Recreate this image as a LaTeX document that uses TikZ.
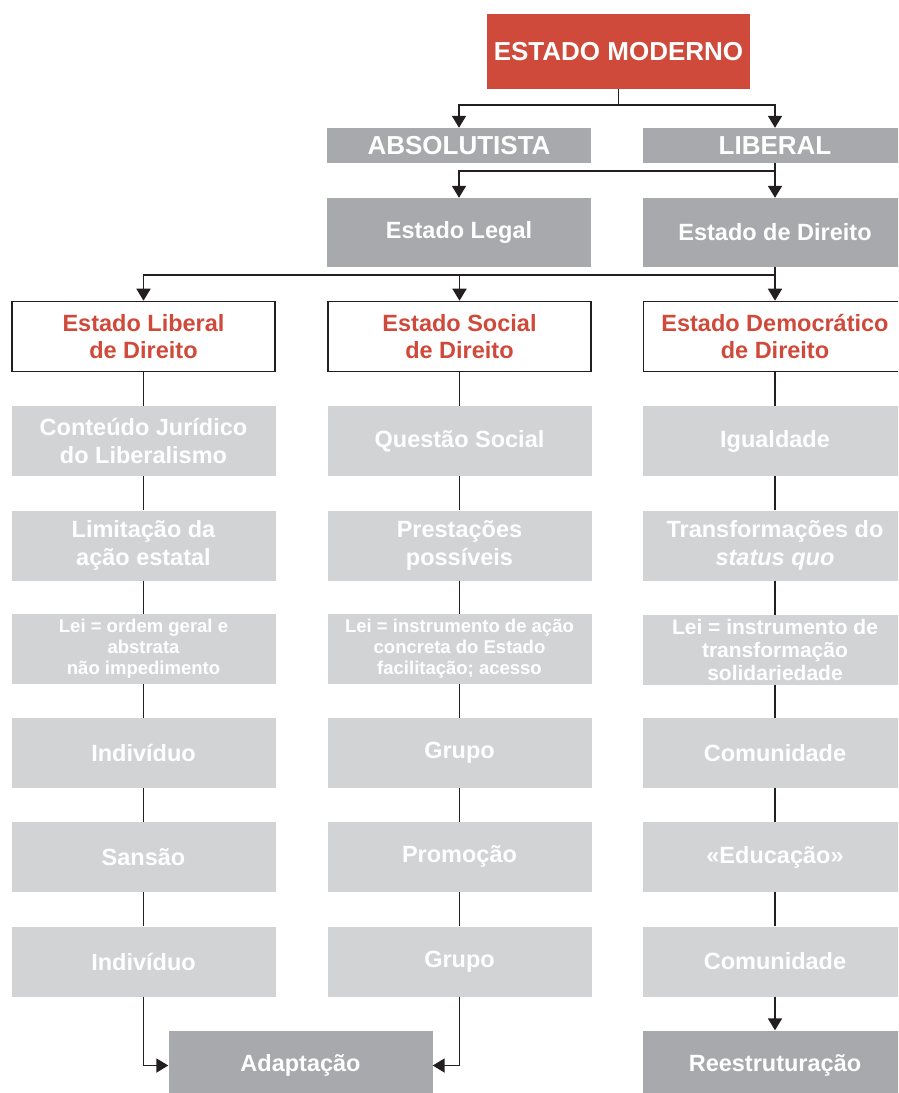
\documentclass[tikz,border=0pt]{standalone}
\usepackage{fontspec}
\setmainfont{Liberation Sans}
\usepackage{xcolor}
\usepackage{tikz}
\usetikzlibrary{arrows.meta,positioning,calc}
\definecolor{estred}{HTML}{CF4A3A}
\definecolor{midgray}{HTML}{A7A9AC}
\definecolor{palegray}{HTML}{D1D3D4}
\definecolor{lineblack}{HTML}{231F20}

\begin{document}
\begin{tikzpicture}[
x=1pt,
y=-1pt,
every node/.style={font=\bfseries,text=white,align=center,inner sep=0pt},
topbox/.style={rectangle,fill=estred,minimum width=263pt,minimum height=75pt,font=\bfseries\fontsize{26}{30}\selectfont},
capbox/.style={rectangle,fill=midgray,minimum width=264pt,minimum height=35pt,font=\bfseries\fontsize{26}{30}\selectfont},
darkbox/.style={rectangle,fill=midgray,minimum width=264pt,minimum height=69pt,font=\bfseries\fontsize{23.5}{28}\selectfont},
headbox/.style={rectangle,draw=lineblack,line width=1.6pt,fill=white,text=estred,minimum width=263pt,minimum height=70pt,font=\bfseries\fontsize{23.5}{27}\selectfont},
rowbox/.style={rectangle,fill=palegray,minimum width=264pt,minimum height=70pt,font=\bfseries\fontsize{23.5}{28}\selectfont},
leibox/.style={rowbox,font=\bfseries\fontsize{18.5}{21}\selectfont},
arr/.style={-{Triangle[length=12pt,width=14pt]},line width=1.8pt,draw=lineblack},
ln/.style={line width=1.8pt,draw=lineblack}
]
\useasboundingbox (0,0) rectangle (898,1093);
\clip (0,0) rectangle (898,1093);

\node[topbox] (moderno) at (618.5,51.5) {ESTADO MODERNO};
\node[capbox] (absol) at (459,145.5) {ABSOLUTISTA};
\node[capbox] (liberal) at (775,145.5) {LIBERAL};
\node[darkbox] (legal) at (459,232.5) {Estado Legal};
\node[darkbox] (direito) at (775,232.5) {Estado de Direito};

\node[headbox] (libdir) at (143.5,336.5) {Estado Liberal\\de Direito};
\node[headbox] (socdir) at (459.5,336.5) {Estado Social\\de Direito};
\node[headbox] (demdir) at (775,336.5) {Estado Democrático\\de Direito};

\node[rowbox] (lib1) at (143.5,441) {Conteúdo Jurídico\\do Liberalismo};
\node[rowbox] (lib2) at (143.5,545.5) {Limitação da\\ação estatal};
\node[leibox] (lib3) at (143.5,649) {Lei = ordem geral e\\abstrata\\não impedimento};
\node[rowbox] (lib4) at (143.5,753) {Indivíduo};
\node[rowbox] (lib5) at (143.5,857) {Sansão};
\node[rowbox] (lib6) at (143.5,961.5) {Indivíduo};

\node[rowbox] (soc1) at (459.5,441) {Questão Social};
\node[rowbox] (soc2) at (459.5,545.5) {Prestações\\possíveis};
\node[leibox] (soc3) at (459.5,649) {Lei = instrumento de ação\\concreta do Estado\\facilitação; acesso};
\node[rowbox] (soc4) at (459.5,753) {\strut Grupo};
\node[rowbox] (soc5) at (459.5,857) {\strut Promoção};
\node[rowbox] (soc6) at (459.5,961.5) {\strut Grupo};

\node[rowbox] (dem1) at (775,441) {Igualdade};
\node[rowbox] (dem2) at (775,545.5) {Transformações do\\\textit{status quo}};
\node[leibox,font=\bfseries\fontsize{21}{23}\selectfont] (dem3) at (775,650) {Lei = instrumento de\\transformação\\solidariedade};
\node[rowbox] (dem4) at (775,753) {Comunidade};
\node[rowbox] (dem5) at (775,857) {«Educação»};
\node[rowbox] (dem6) at (775,961.5) {Comunidade};

\node[darkbox,minimum height=70pt] (adapt) at (300.5,1065.5) {Adaptação};
\node[darkbox,minimum height=70pt] (reestr) at (775,1065.5) {Reestruturação};

\draw[arr] (moderno.south) -- ++(0,16) -| (absol.north);
\draw[arr] (moderno.south) -- ++(0,16) -| (liberal.north);
\draw[arr] (liberal.south) -- ++(0,8) -| (legal.north);
\draw[arr] (liberal) -- (direito);
\draw[arr] (direito.south) -- ++(0,7.5) -| (libdir.north);
\draw[arr] (direito.south) -- ++(0,7.5) -| (socdir.north);
\draw[arr] (direito) -- (demdir);

\draw[ln] (libdir) -- (lib1);
\draw[ln] (lib1) -- (lib2);
\draw[ln] (lib2) -- (lib3);
\draw[ln] (lib3) -- (lib4);
\draw[ln] (lib4) -- (lib5);
\draw[ln] (lib5) -- (lib6);
\draw[ln] (socdir) -- (soc1);
\draw[ln] (soc1) -- (soc2);
\draw[ln] (soc2) -- (soc3);
\draw[ln] (soc3) -- (soc4);
\draw[ln] (soc4) -- (soc5);
\draw[ln] (soc5) -- (soc6);
\draw[ln] (demdir) -- (dem1);
\draw[ln] (dem1) -- (dem2);
\draw[ln] (dem2) -- (dem3);
\draw[ln] (dem3) -- (dem4);
\draw[ln] (dem4) -- (dem5);
\draw[ln] (dem5) -- (dem6);

\draw[arr] (lib6) |- (adapt);
\draw[arr] (soc6) |- (adapt);
\draw[arr] (dem6) -- (reestr);
\end{tikzpicture}
\end{document}
